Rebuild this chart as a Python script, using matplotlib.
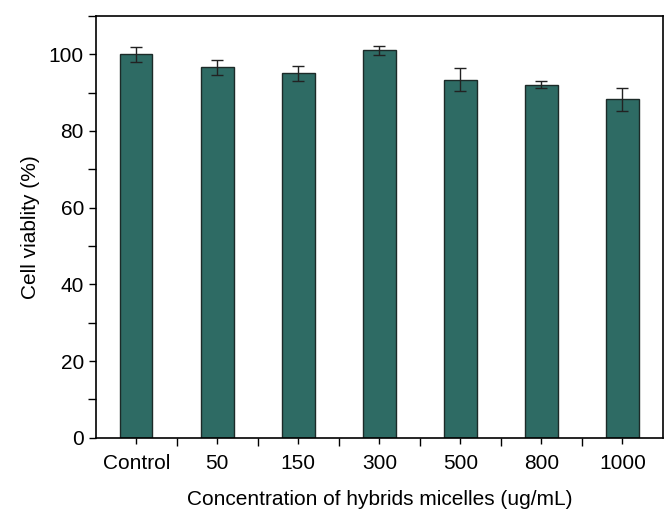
import matplotlib.pyplot as plt
from matplotlib.ticker import MultipleLocator

plt.rcParams['font.family'] = ['Liberation Sans', 'DejaVu Sans']

# data
groups = ["Control", "50", "150", "300", "500", "800", "1000"]
viability = [100.0, 96.6, 95.0, 101.0, 93.4, 92.1, 88.2]
errors = [2.0, 2.0, 2.0, 1.2, 2.9, 1.0, 2.9]

fig = plt.figure(figsize=(6.65, 5.12), dpi=100)
ax = fig.add_axes([0.144, 0.145, 0.853, 0.824])

x = list(range(len(groups)))
ax.bar(x, viability, width=0.4, color="#2e6b64", edgecolor="#1c2a28", linewidth=1.0,
       yerr=errors, capsize=4, error_kw=dict(ecolor="#222222", elinewidth=1, capthick=1))

ax.set_xlim(-0.5, 6.5)
ax.set_ylim(0, 110)
ax.set_xticks(x)
ax.set_xticklabels(groups)
ax.set_xticks([i + 0.5 for i in x[:-1]], minor=True)
ax.yaxis.set_major_locator(MultipleLocator(20))
ax.yaxis.set_minor_locator(MultipleLocator(10))

ax.tick_params(axis="both", which="major", labelsize=15, direction="out", length=5, width=1)
ax.tick_params(axis="x", which="major", length=4, pad=8)
ax.tick_params(axis="both", which="minor", direction="out", length=6, width=1)

ax.set_ylabel("Cell viablity (%)", fontsize=15, labelpad=6)
ax.set_xlabel("Concentration of hybrids micelles (ug/mL)", fontsize=15, labelpad=12)

for s in ax.spines.values():
    s.set_linewidth(1.2)

fig.savefig("out.png", dpi=100)
